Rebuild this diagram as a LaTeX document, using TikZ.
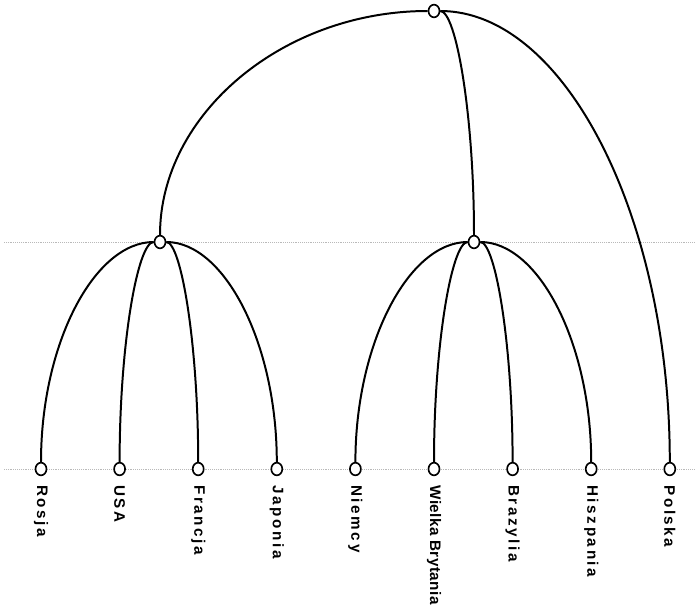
\documentclass[tikz,border=0pt]{standalone}
\usepackage{fontspec}
\newfontfamily\countryfont[LetterSpace=17]{Liberation Sans}
\newfontfamily\narrowfont[LetterSpace=3]{Liberation Sans}
\usetikzlibrary{shapes.geometric, calc}

\begin{document}
\begin{tikzpicture}[
            x=0.03cm, y=-0.03cm,
            vertex/.style={
                ellipse,
                draw,
                line width=1.4pt,
                fill=white,
                inner sep=0pt,
                minimum width=0.33cm,
                minimum height=0.38cm
            },
            branch/.style={
                line width=1.7pt,
                to path={.. controls ($(\tikztostart)!0.5523!(\tikztotarget|-\tikztostart)$)
                         and ($(\tikztotarget)!0.5523!(\tikztotarget|-\tikztostart)$)
                         .. (\tikztotarget) \tikztonodes}
            },
            level/.style={gray!55, densely dotted, line width=0.6pt},
            country/.style={
                rotate=-90,
                anchor=west,
                inner sep=0pt,
                font=\countryfont\bfseries\fontsize{13}{15}\selectfont
            },
            longcountry/.style={
                country,
                font=\narrowfont\bfseries\fontsize{13}{15}\selectfont
            }
        ]
        \useasboundingbox (0,0) rectangle (695,616);

        % Levels
        \draw[level] (4,242) -- (695,242);
        \draw[level] (4,469) -- (695,469);

        % Nodes
        \node[vertex] (root) at (434,11) {};
        \node[vertex] (left) at (160,242) {};
        \node[vertex] (right) at (474,242) {};

        \foreach \name/\txt/\sty [count=\i from 0] in {rosja/Rosja/country, usa/USA/country,
                francja/Francja/country, japonia/Japonia/country, niemcy/Niemcy/country,
                wielka/Wielka Brytania/longcountry, brazylia/Brazylia/country,
                hiszpania/Hiszpania/country, polska/Polska/country} {
            \node[vertex] (\name) at (41+78.6*\i,469) {};
            \node[\sty] (\name-txt) at ($(\name.south)+(0,9)$) {\txt};
        }

        % Edges
        \draw[branch] (root) to (left);
        \draw[branch] (root) to (right);
        \draw[branch] (root) to (polska);

        \foreach \child in {rosja, usa, francja, japonia}
            \draw[branch] (left) to (\child);
        \foreach \child in {niemcy, wielka, brazylia, hiszpania}
            \draw[branch] (right) to (\child);

        \end{tikzpicture}
\end{document}
